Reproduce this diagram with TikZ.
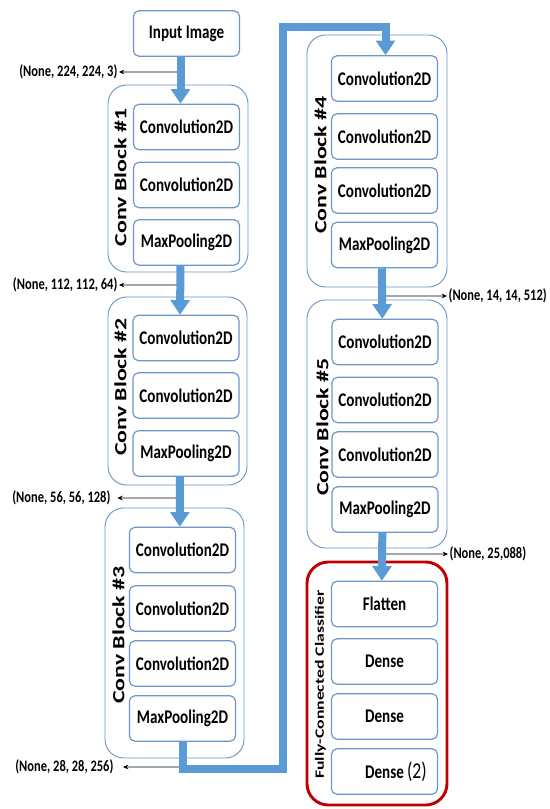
\documentclass[tikz,border=0pt]{standalone}
\usepackage{fontspec}
\setmainfont{Carlito}
\newfontfamily\flatfont[FakeStretch=0.78]{Carlito}
\newfontfamily\tallfont[FakeStretch=1.4]{Carlito}
\usepackage{tikz}
\usetikzlibrary{positioning, calc, fit, arrows.meta}
\definecolor{kerasblue}{RGB}{91,155,213}
\definecolor{edgeblue}{RGB}{108,151,200}
\definecolor{fcred}{RGB}{192,0,0}
\tikzstyle{layer} = [draw=edgeblue, line width=0.9pt, rounded corners=4pt, fill=white, minimum width=79.5pt, minimum height=34pt, inner sep=0pt, font=\flatfont\bfseries\fontsize{14.5}{16}\selectfont]
\tikzstyle{convblk} = [draw=edgeblue, line width=0.7pt, rounded corners=14pt, inner sep=0pt]
\tikzstyle{fcblk} = [draw=fcred, line width=2.2pt, rounded corners=16pt, inner sep=0pt]
\tikzstyle{blklbl} = [rotate=90, inner sep=0pt, font=\tallfont\bfseries\fontsize{12.8}{16}\selectfont]
\tikzstyle{shapelbl} = [inner sep=1pt, font=\flatfont\bfseries\fontsize{12}{14}\selectfont]
\tikzstyle{flow} = [draw=kerasblue, line width=6pt, line join=miter, -{Triangle[width=14pt,length=11pt]}]
\tikzstyle{tap} = [draw=gray!70, line width=0.8pt, -{Stealth[length=4pt,width=3.5pt,color=black]}]

\begin{document}
\begin{tikzpicture}[x=0.75pt,y=-0.75pt]
\useasboundingbox (0,0) rectangle (549,809);
\fill[white] (0,0) rectangle (549,809);
% outer blocks
\node[convblk, fit={(108,85) (248,272)}] (b1) {};
\node[convblk, fit={(108,297) (247,485)}] (b2) {};
\node[convblk, fit={(105,508) (244,758)}] (b3) {};
\node[convblk, fit={(307,35) (447,287)}] (b4) {};
\node[convblk, fit={(307,300) (447,548)}] (b5) {};
\node[fcblk, fit={(307,562) (447,805)}] (fc) {};
\node[blklbl] at ($(b1.west)+(13,-1)$) {Conv Block \#1};
\node[blklbl] at ($(b2.west)+(13,-4)$) {Conv Block \#2};
\node[blklbl] at ($(b3.west)+(14,2)$) {Conv Block \#3};
\node[blklbl] at ($(b4.west)+(14,4)$) {Conv Block \#4};
\node[blklbl] at ($(b5.west)+(16,3)$) {Conv Block \#5};
\node[blklbl, font=\tallfont\bfseries\fontsize{9.5}{12}\selectfont] at ($(fc.west)+(15,1)$) {Fully-Connected Classifier};
% layers
\node[layer] (inp) at (186.5,33.5) {Input Image};
\node[layer] (c11) at (186.5,127) {Convolution2D};
\node[layer] (c12) at (186.5,185) {Convolution2D};
\node[layer] (m1) at (186.5,242.5) {MaxPooling2D};
\node[layer] (c21) at (186,338) {Convolution2D};
\node[layer] (c22) at (186,395.5) {Convolution2D};
\node[layer] (m2) at (186,453.5) {MaxPooling2D};
\node[layer] (c31) at (182.5,550) {Convolution2D};
\node[layer] (c32) at (182.5,608.5) {Convolution2D};
\node[layer] (c33) at (182.5,663.5) {Convolution2D};
\node[layer] (m3) at (182.5,718.5) {MaxPooling2D};
\node[layer] (c41) at (384.5,78.5) {Convolution2D};
\node[layer] (c42) at (384.5,136.5) {Convolution2D};
\node[layer] (c43) at (384.5,190.5) {Convolution2D};
\node[layer] (m4) at (384.5,245) {MaxPooling2D};
\node[layer] (c51) at (385,342) {Convolution2D};
\node[layer] (c52) at (385,400) {Convolution2D};
\node[layer] (c53) at (385,454.5) {Convolution2D};
\node[layer] (m5) at (385,509.5) {MaxPooling2D};
\node[layer] (fl) at (384.5,604) {Flatten};
\node[layer] (d1) at (384.5,661.5) {Dense};
\node[layer] (d2) at (384.5,716.5) {Dense};
\node[layer] (d3) at (384.5,771.5) {Dense\rlap{\,\mdseries\fontsize{17}{17}\selectfont(2)}};
% output shapes
\node[shapelbl, anchor=east] (o1) at (119,72) {(None, 224, 224, 3)};
\node[shapelbl, anchor=east] (o2) at (119,285) {(None, 112, 112, 64)};
\node[shapelbl, anchor=east] (o3) at (112,498) {(None, 56, 56, 128)};
\node[shapelbl, anchor=east] (o4) at (115,767) {(None, 28, 28, 256)};
\node[shapelbl, anchor=west] (o5) at (447,296) {(None, 14, 14, 512)};
\node[shapelbl, anchor=west] (o6) at (448,554) {(None, 25,088)};
\coordinate (t1) at (180,72);
\coordinate (t2) at (180,285);
\coordinate (t3) at (179,498);
\coordinate (t4) at (182,767);
\coordinate (t5) at (382,296);
\coordinate (t6) at (382,554);
\draw[tap] (t1) -- (o1.east);
\draw[tap] (t2) -- (o2.east);
\draw[tap] (t3) -- ([xshift=4pt]o3.east);
\draw[tap] (t4) -- ([xshift=6pt]o4.east);
\draw[tap] (t5) -- (o5.west);
\draw[tap] (t6) -- (o6.west);
% data flow
\draw[flow] ([xshift=-4.5pt]inp.south) -- ([xshift=-4.5pt]c11.north);
\draw[flow] ([xshift=-4.5pt]m1.south) -- ([xshift=-4.5pt]c21.north);
\draw[flow] ([xshift=-4.5pt]m2.south) -- ([xshift=-2pt]c31.north);
\coordinate (r1) at (283,769);
\coordinate (r2) at ($(c41.north)+(1,-28)$);
\draw[flow] (m3.south) |- (r1) |- (r2) -- ([xshift=0.75pt]c41.north);
\draw[flow] ([xshift=-2pt]m4.south) -- ([xshift=-2pt]c51.north);
\draw[flow] ([xshift=-2pt]m5.south) -- ([xshift=-2pt]fl.north);
\end{tikzpicture}
\end{document}
